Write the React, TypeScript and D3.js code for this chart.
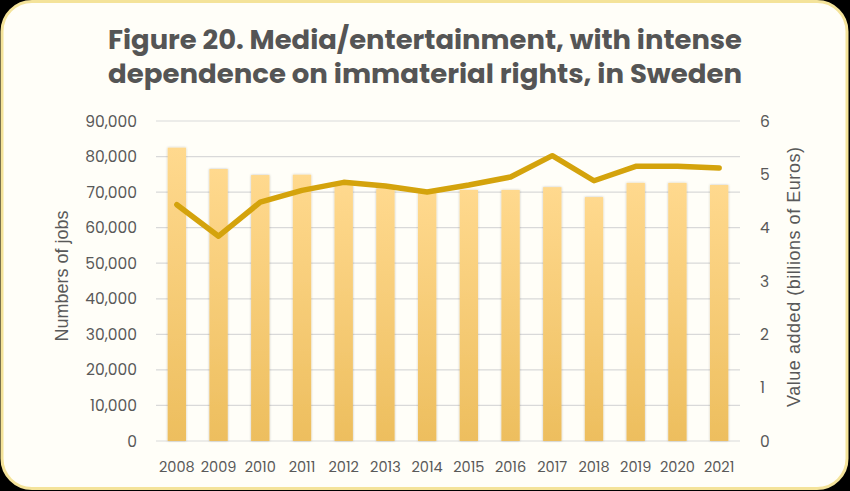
import React from "react";
import * as d3 from "d3";

const years = ["2008","2009","2010","2011","2012","2013","2014","2015","2016","2017","2018","2019","2020","2021"];
const jobs = [82500,76500,74800,74900,72000,71100,69700,70600,70600,71400,68600,72600,72600,72000];
const valueAdded = [4.43,3.84,4.48,4.70,4.85,4.78,4.67,4.80,4.95,5.35,4.88,5.15,5.15,5.12];
const leftTicks = [0,10000,20000,30000,40000,50000,60000,70000,80000,90000];
const rightTicks = [0,1,2,3,4,5,6];
const titleLines = ["Figure 20. Media/entertainment, with intense","dependence on immaterial rights, in Sweden"];

const W = 850, H = 491;
const plot = { left: 156, right: 740, top: 121, bottom: 441 };

export default function App() {
  const x = d3.scaleBand<string>().domain(years).range([plot.left, plot.right]).paddingInner(0.56).paddingOuter(0.28);
  const yL = d3.scaleLinear().domain([0, 90000]).range([plot.bottom, plot.top]);
  const yR = d3.scaleLinear().domain([0, 6]).range([plot.bottom, plot.top]);
  const fmt = d3.format(",");
  const cx = (y: string) => (x(y) as number) + x.bandwidth() / 2;
  const line = d3.line<number>().x((_, i) => cx(years[i])).y((d) => yR(d));
  const font = "Poppins, 'Open Sans', 'DejaVu Sans', sans-serif";
  const axFont = "'Liberation Sans', Arial, sans-serif";
  return (
    <svg width={W} height={H} style={{ position: "fixed", left: 0, top: 0, background: "#000" }}>
      <defs>
        <linearGradient id="barg" x1="0" y1="0" x2="0" y2="1">
          <stop offset="0" stopColor="#FFD98E" />
          <stop offset="1" stopColor="#EDBE5E" />
        </linearGradient>
        <filter id="sh" x="-30%" y="-10%" width="160%" height="120%">
          <feDropShadow dx="0" dy="0" stdDeviation="1.2" floodColor="#000" floodOpacity="0.25" />
        </filter>
      </defs>
      <rect x={2} y={1.5} width={845} height={487} rx={30} fill="#FFFEF8" stroke="#F4E39A" strokeWidth={3} />
      {titleLines.map((t, i) => (
        <text key={i} x={425} y={49 + i * 34} textAnchor="middle" fontFamily={font} fontWeight={700} fontSize={27} fill="#555555" textLength={634} lengthAdjust="spacingAndGlyphs">{t}</text>
      ))}
      {leftTicks.map((t) => (
        <line key={t} x1={plot.left} x2={plot.right} y1={yL(t)} y2={yL(t)} stroke="#D9D9D9" strokeWidth={1.2} />
      ))}
      {years.map((y, i) => (
        <rect key={y} x={x(y)} y={yL(jobs[i])} width={x.bandwidth()} height={yL(0) - yL(jobs[i])} fill="url(#barg)" filter="url(#sh)" />
      ))}
      <path d={line(valueAdded) || ""} fill="none" stroke="#D4A30C" strokeWidth={5.5} strokeLinejoin="round" strokeLinecap="round" />
      {leftTicks.map((t) => (
        <text key={t} x={137} y={yL(t) + 5.5} textAnchor="end" fontFamily={font} fontSize={15.5} fill="#595959">{fmt(t)}</text>
      ))}
      {rightTicks.map((t) => (
        <text key={t} x={760} y={yR(t) + 5.5} textAnchor="start" fontFamily={font} fontSize={15.5} fill="#595959">{t}</text>
      ))}
      {years.map((y) => (
        <text key={y} x={cx(y)} y={472} textAnchor="middle" fontFamily={font} fontSize={14.5} fill="#595959">{y}</text>
      ))}
      <text transform={`translate(68,276) rotate(-90)`} textAnchor="middle" fontFamily={axFont} fontSize={18} fill="#595959">Numbers of jobs</text>
      <text transform={`translate(800,277) rotate(-90)`} textAnchor="middle" fontFamily={axFont} fontSize={18} fill="#595959" textLength={260} lengthAdjust="spacing">Value added (billions of Euros)</text>
    </svg>
  );
}
